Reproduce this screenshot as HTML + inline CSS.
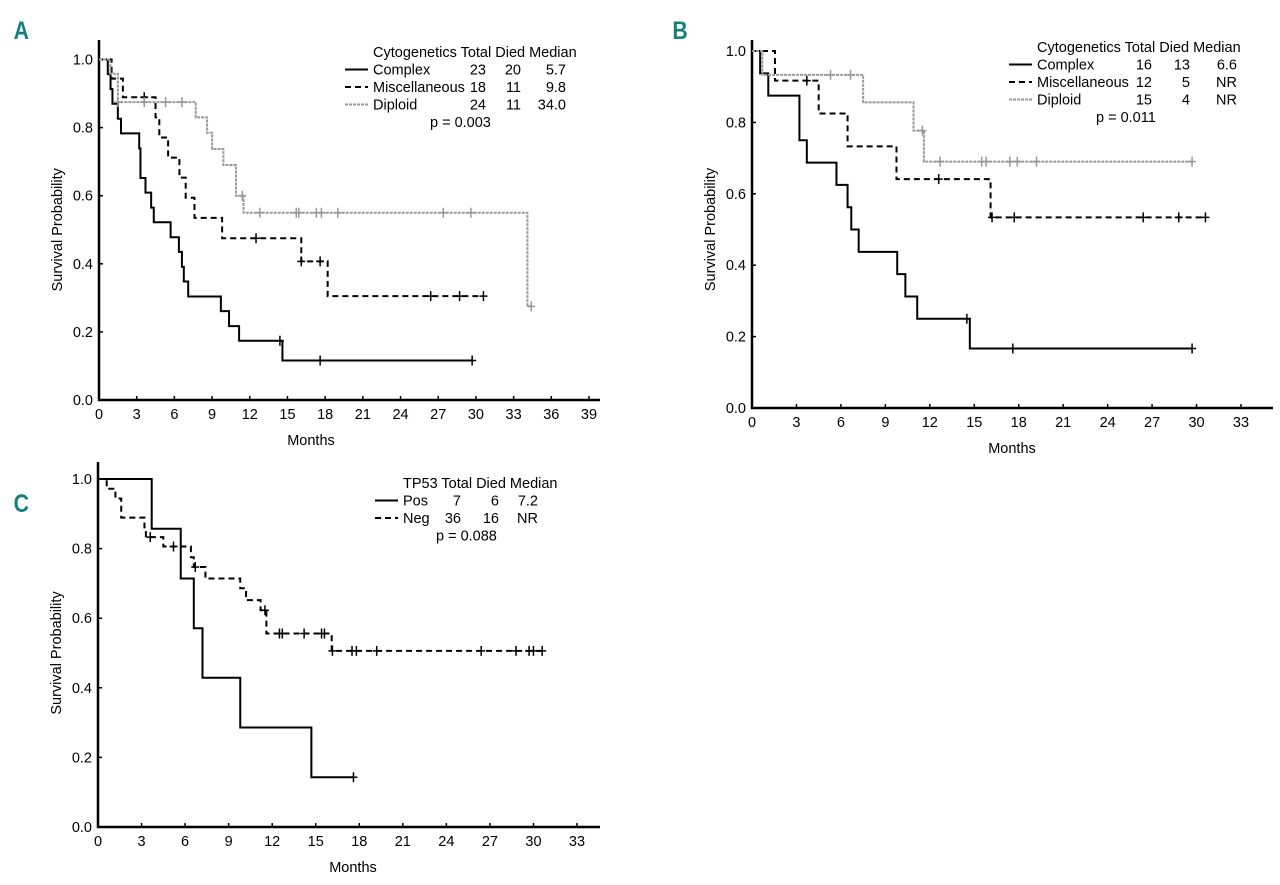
<!DOCTYPE html>
<html><head><meta charset="utf-8"><style>
body{margin:0;background:#fff;}
svg{display:block;font-family:"Liberation Sans",sans-serif;}
.pl{font-family:"Liberation Sans",sans-serif;font-weight:bold;fill:#16807f;font-size:25px;}
</style></head><body>
<svg id="c" width="1280" height="885" viewBox="0 0 1280 885">
<text class="pl" x="16" y="39" transform="scale(0.85,1)">A</text>
<text class="pl" x="791" y="39" transform="scale(0.85,1)">B</text>
<text class="pl" x="16" y="512" transform="scale(0.85,1)">C</text>
</svg>
<script>
// ---- Panel A data ----
const aComplexT=[0,0.7,0.92,1.07,1.5,1.75,3.2,3.3,3.7,4.15,4.36,5.7,6.36,6.6,6.75,7.1,9.7,10.35,11.15,14.6,29.7];
const aComplexS=[1,0.957,0.913,0.87,0.826,0.783,0.739,0.652,0.609,0.565,0.522,0.478,0.435,0.391,0.348,0.304,0.261,0.217,0.174,0.116,0.116];
const aComplexC=[14.4,17.6,29.7];
const aMiscT=[0,1.0,1.9,4.5,4.8,5.5,6.4,6.9,7.6,9.8,16.1,18.2,30.6];
const aMiscS=[1,0.944,0.889,0.83,0.771,0.712,0.653,0.594,0.535,0.475,0.407,0.305,0.305];
const aMiscC=[3.6,12.5,16.1,17.6,26.4,28.7,30.6];
const aDipT=[0,0.9,1.5,7.7,8.6,9.0,9.9,10.9,11.5,34.1,34.4];
const aDipS=[1,0.958,0.875,0.83,0.785,0.737,0.69,0.6,0.55,0.275,0.275];
const aDipC=[1.5,3.6,5.3,6.6,11.4,12.8,15.7,15.9,17.3,17.7,19,27.4,29.6,34.4];
// ---- Panel B data ----
const bComplexT=[0,0.55,1.1,3.2,3.7,5.7,6.45,6.7,7.2,9.8,10.35,11.15,14.7,29.7];
const bComplexS=[1,0.9375,0.875,0.75,0.6875,0.625,0.5625,0.5,0.4375,0.375,0.3125,0.25,0.1667,0.1667];
const bComplexC=[14.5,17.6,29.7];
const bMiscT=[0,1.55,4.5,6.45,9.75,16.1,30.6];
const bMiscS=[1,0.917,0.825,0.733,0.641,0.534,0.534];
const bMiscC=[3.7,12.6,16.2,17.7,26.4,28.8,30.6];
const bDipT=[0,0.7,7.5,10.9,11.6,29.7];
const bDipS=[1,0.933,0.856,0.777,0.69,0.69];
const bDipC=[5.3,6.65,11.5,12.7,15.5,15.8,17.4,17.9,19.2,29.7];
// ---- Panel C data ----
const cPosT=[0,3.7,5.7,6.6,7.2,9.8,14.7,17.6];
const cPosS=[1,0.857,0.714,0.571,0.429,0.286,0.143,0.143];
const cPosC=[17.6];
const cNegT=[0,0.6,1.2,1.6,3.2,3.3,4.5,6.4,6.6,7.4,9.8,10.2,11.2,11.6,16.1,30.6];
const cNegS=[1,0.972,0.944,0.889,0.861,0.833,0.806,0.775,0.747,0.714,0.686,0.652,0.623,0.556,0.506,0.506];
const cNegC=[3.6,5.2,6.7,11.5,12.5,12.7,14.2,15.4,15.6,16.15,17.5,17.8,19.2,26.4,28.8,29.7,30.0,30.6];
const yTicks=[0,0.2,0.4,0.6,0.8,1.0];
const xTicksA=[0,3,6,9,12,15,18,21,24,27,30,33,36,39];
const xTicksBC=[0,3,6,9,12,15,18,21,24,27,30,33];

const svg=document.getElementById('c');
const NS='http://www.w3.org/2000/svg';
const FS=14.5;
function mk(tag,attrs,parent){const e=document.createElementNS(NS,tag);for(const k in attrs)e.setAttribute(k,attrs[k]);(parent||svg).appendChild(e);return e;}

function panel(id,cfg){
  const g=mk('g',{});
  
  
  const X=t=>cfg.x0+(cfg.x1-cfg.x0)*t/cfg.tmax;
  const Y=s=>cfg.y0+(cfg.y1-cfg.y0)*s;
  const ax=mk('path',{d:`M${cfg.x0},${cfg.top}V${cfg.y0}H${cfg.xEnd}`,stroke:'#000','stroke-width':2.5,fill:'none'},g);
  
  
  cfg.xt.forEach(v=>{
    mk('line',{x1:X(v),x2:X(v),y1:cfg.y0,y2:cfg.y0-4,stroke:'#000','stroke-width':1.5},g);
    const t=mk('text',{x:X(v),y:cfg.y0+19,'text-anchor':'middle','font-size':FS},g);
    t.textContent=v;
    
    
  });
  yTicks.forEach(v=>{
    mk('line',{x1:cfg.x0,x2:cfg.x0+4,y1:Y(v),y2:Y(v),stroke:'#000','stroke-width':1.5},g);
    const t=mk('text',{x:cfg.x0-6,y:Y(v)+5,'text-anchor':'end','font-size':FS},g);
    t.textContent=v.toFixed(1);
    
    
  });
  const yt=mk('text',{x:0,y:0,'text-anchor':'middle','font-size':FS,transform:`translate(${cfg.x0-37},${(cfg.y0+cfg.y1)/2}) rotate(-90)`},g);
  yt.textContent='Survival Probability';
  
  
  const xt=mk('text',{x:cfg.xtitle,y:cfg.y0+45,'text-anchor':'middle','font-size':FS},g);
  xt.textContent='Months';
  
  
  cfg.series.forEach(s=>{
    let d=`M${X(s.t[0])},${Y(s.s[0])}`;
    for(let i=1;i<s.t.length;i++){d+=`H${X(s.t[i])}V${Y(s.s[i])}`;}
    const p=mk('path',{d,stroke:s.col,'stroke-width':2,fill:'none','stroke-dasharray':s.dash||'none'},g);
    
    
    s.c.forEach(ct=>{
      let sv=s.s[0];for(let i=0;i<s.t.length;i++){if(s.t[i]<=ct)sv=s.s[i];}
      const m=mk('path',{d:`M${X(ct)-4},${Y(sv)}h8M${X(ct)},${Y(sv)-5}v10`,stroke:s.col,'stroke-width':1.5},g);
      
      
    });
  });
  // legend
  const L=cfg.leg;
  const lg=mk('g',{'font-size':FS},g);
  
  
  const h=mk('text',{x:L.x,y:L.y},lg);h.textContent=L.header;
  L.rows.forEach((r,i)=>{
    const yy=L.y+17.5*(i+1);
    const ln=mk('line',{x1:L.x-28,x2:L.x-5,y1:yy-5,y2:yy-5,stroke:cfg.series[i].col,'stroke-width':2,'stroke-dasharray':cfg.series[i].dash||'none'},lg);
    
    
    r.forEach((c,j)=>{
      const t=mk('text',{x:L.x+L.cols[j],y:yy,'text-anchor':j==0?'start':'end'},lg);
      t.textContent=c;
      
      
    });
  });
  const p=mk('text',{x:L.px,y:L.y+17.5*(L.rows.length+1)},lg);p.textContent=L.p;
}
panel('a',{x0:99,x1:589,tmax:39,y0:400,y1:59.5,top:40,xEnd:600,xt:xTicksA,xtitle:311,
  series:[{name:'complex',t:aComplexT,s:aComplexS,c:aComplexC,col:'#000'},
          {name:'misc',t:aMiscT,s:aMiscS,c:aMiscC,col:'#000',dash:'6,4'},
          {name:'diploid',t:aDipT,s:aDipS,c:aDipC,col:'#999',dash:'3,1'}],
  leg:{x:373,y:57,header:'Cytogenetics Total Died Median',cols:[0,113,148,193],
    rows:[['Complex','23','20','5.7'],['Miscellaneous','18','11','9.8'],['Diploid','24','11','34.0']],px:430,p:'p = 0.003'}});
panel('b',{x0:752,x1:1241,tmax:33,y0:408,y1:51,top:40,xEnd:1273,xt:xTicksBC,xtitle:1012,
  series:[{name:'complex',t:bComplexT,s:bComplexS,c:bComplexC,col:'#000'},
          {name:'misc',t:bMiscT,s:bMiscS,c:bMiscC,col:'#000',dash:'6,4'},
          {name:'diploid',t:bDipT,s:bDipS,c:bDipC,col:'#999',dash:'3,1'}],
  leg:{x:1037,y:52,header:'Cytogenetics Total Died Median',cols:[0,115,153,200],
    rows:[['Complex','16','13','6.6'],['Miscellaneous','12','5','NR'],['Diploid','15','4','NR']],px:1096,p:'p = 0.011'}});
panel('c',{x0:98,x1:577,tmax:33,y0:827,y1:479,top:462,xEnd:600,xt:xTicksBC,xtitle:353,
  series:[{name:'pos',t:cPosT,s:cPosS,c:cPosC,col:'#000'},
          {name:'neg',t:cNegT,s:cNegS,c:cNegC,col:'#000',dash:'6,4'}],
  leg:{x:403,y:488,header:'TP53 Total Died Median',cols:[0,58,96,135],
    rows:[['Pos','7','6','7.2'],['Neg','36','16','NR']],px:436,p:'p = 0.088'}});
</script>
</body></html>
